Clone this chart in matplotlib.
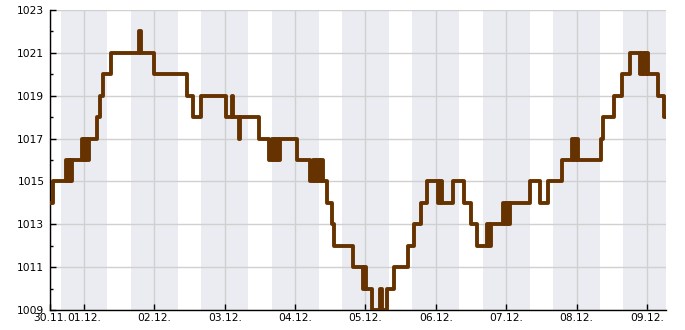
"""Air pressure trace (hPa) over nine days, with night-time shading."""
import numpy as np
import matplotlib

matplotlib.use("Agg")
import matplotlib.pyplot as plt

# hours since 30.11. 00:00 at which the reading changes, and the new reading [hPa]
change_hours = [
    12.4, 13.4, 17.9, 18.5, 19.2, 19.6, 19.9, 23.3, 24.0, 24.3, 25.0, 25.7,
    28.4, 29.5, 30.5, 33.2, 42.8, 43.4, 47.9, 59.1, 61.2, 63.9, 72.4, 74.5,
    74.8, 76.9, 77.2, 83.7, 87.1, 88.1, 88.8, 89.5, 90.2, 90.9, 96.7, 101.1,
    102.1, 102.8, 103.5, 104.2, 104.8, 105.5, 106.9, 108.6, 109.3, 115.8,
    119.2, 119.8, 120.2, 122.2, 125.0, 125.6, 127.3, 129.7, 134.5, 136.6,
    138.9, 141.0, 144.7, 145.4, 146.1, 149.9, 153.6, 156.0, 158.0, 161.5,
    162.1, 162.8, 166.9, 167.6, 168.3, 169.0, 169.3, 176.1, 179.5, 182.3,
    187.0, 190.4, 191.1, 191.8, 192.5, 200.3, 201.0, 204.8, 207.5, 210.2,
    213.6, 214.3, 215.0, 215.7, 216.4, 219.8, 221.8,
]
pressure = [
    1014, 1015, 1016, 1015, 1016, 1015, 1016, 1017, 1016, 1017, 1016, 1017,
    1018, 1019, 1020, 1021, 1022, 1021, 1020, 1019, 1018, 1019, 1018, 1019,
    1018, 1017, 1018, 1017, 1016, 1017, 1016, 1017, 1016, 1017, 1016, 1015,
    1016, 1015, 1016, 1015, 1016, 1015, 1014, 1013, 1012, 1011,
    1010, 1011, 1010, 1009, 1010, 1009, 1010, 1011, 1012, 1013,
    1014, 1015, 1014, 1015, 1014, 1015, 1014, 1013, 1012, 1013,
    1012, 1013, 1014, 1013, 1014, 1013, 1014, 1015, 1014, 1015,
    1016, 1017, 1016, 1017, 1016, 1017, 1018, 1019, 1020, 1021,
    1020, 1021, 1020, 1021, 1020, 1019, 1018,
]
end_hour = 222.5

day_labels = ["30.11.", "01.12.", "02.12.", "03.12.", "04.12.",
              "05.12.", "06.12.", "07.12.", "08.12.", "09.12."]
night_start, night_end = 16, 8  # shaded from 16:00 to 08:00

t = np.append(change_hours, end_hour)
p = np.append(pressure, pressure[-1])

fig = plt.figure(figsize=(6.85, 3.30), dpi=100)
ax = fig.add_axes([50 / 685, 20 / 330, 616 / 685, 300 / 330])

for d in range(len(day_labels)):
    ax.axvspan(24 * d + night_start, 24 * (d + 1) + night_end,
               color="#EBECF1", lw=0, zorder=0)

ax.step(t, p, where="post", color="#663300", lw=2.8, zorder=3)

ax.set_xlim(t[0], end_hour)
ax.set_ylim(1009, 1023)

xticks = [t[0]] + [24 * d for d in range(1, len(day_labels))]
ax.set_xticks(xticks)
ax.set_xticklabels(day_labels)
ax.set_yticks(np.arange(1009, 1024, 2))
ax.set_yticks(np.arange(1010, 1023, 2), minor=True)

ax.grid(True, which="major", color="#D0D0D0", lw=1.0, zorder=1)
ax.set_axisbelow(True)
for s in ("top", "right"):
    ax.spines[s].set_visible(False)
for s in ("left", "bottom"):
    ax.spines[s].set_linewidth(1.0)

ax.tick_params(axis="both", which="major", direction="in", length=4.5,
               width=1.0, labelsize=7.7, pad=4)
ax.tick_params(axis="y", which="minor", direction="in", length=2.5, width=1.0)
ax.tick_params(axis="x", which="major", pad=2)

fig.savefig("out.png", dpi=100)
plt.close(fig)
